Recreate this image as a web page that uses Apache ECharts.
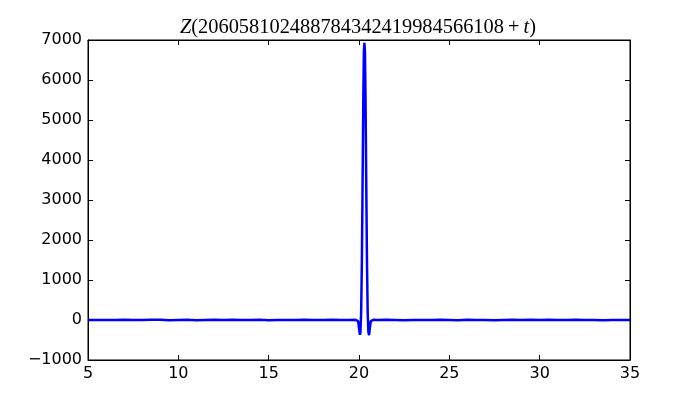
<!DOCTYPE html>
<html>
<head>
<meta charset="utf-8">
<script src="https://cdn.jsdelivr.net/npm/echarts@6/dist/echarts.min.js"></script>
<style>html,body{margin:0;padding:0;background:#fff}#c{width:700px;height:400px}</style>
</head>
<body>
<div id="c"></div>
<script>
const titleNumber = "206058102488784342419984566108";
const xTicks = [5, 10, 15, 20, 25, 30, 35];
const yTicks = [-1000, 0, 1000, 2000, 3000, 4000, 5000, 6000, 7000];
const tValues = [5, 5.5, 6, 6.5, 7, 7.5, 8, 8.5, 9, 9.5, 10, 10.5, 11, 11.5, 12, 12.5, 13, 13.5, 14, 14.5, 15, 15.5, 16, 16.5, 17, 17.5, 18, 18.5, 19, 19.5, 19.8, 19.9, 19.95, 20.0, 20.05, 20.08, 20.12, 20.16, 20.2, 20.24, 20.27, 20.3, 20.33, 20.36, 20.4, 20.44, 20.48, 20.52, 20.56, 20.6, 20.65, 20.7, 20.8, 21, 21.5, 22, 22.5, 23, 23.5, 24, 24.5, 25, 25.5, 26, 26.5, 27, 27.5, 28, 28.5, 29, 29.5, 30, 30.5, 31, 31.5, 32, 32.5, 33, 33.5, 34, 34.5, 35];
const zValues = [1, -3, 2, -2, 4, 1, -3, 5, 8, -6, 3, 7, -5, 2, 4, -2, 6, -1, 3, 5, -4, 2, 1, -3, 4, 1, -2, 4, 2, -1, 5, 5, -30, -200, -370, -300, 200, 1500, 3500, 5600, 6700, 6930, 6700, 5600, 3500, 1500, 200, -300, -380, -200, -30, 5, 5, -3, 4, 2, -5, 3, 1, -2, 4, 1, -4, 6, -2, 3, -4, 2, 5, -3, 7, -1, 4, -3, 2, 5, -2, 3, -4, 1, 2, 1];

const seriesData = tValues.map((t, i) => [t, zValues[i]]);
const fmtMinus = v => String(v).replace('-', '\u2212');

const chart = echarts.init(document.getElementById('c'), null, {renderer: 'canvas'});
const font = 'DejaVu Sans';
const gridBox = {left: 88, right: 70, top: 40, bottom: 40};
const tickStyle = {show: true, inside: true, length: 5, lineStyle: {color: '#000', width: 1}};
const lineStyle = {show: true, onZero: false, lineStyle: {color: '#000', width: 1}};
chart.setOption({
  animation: false,
  backgroundColor: '#fff',
  title: {
    text: '{i|Z}{r|(' + titleNumber + '\u2009+\u2009}{i|t}{r|)}',
    left: 353, top: 13, textAlign: 'center',
    textStyle: {
      fontWeight: 'normal',
      rich: {
        i: {fontFamily: 'Liberation Serif', fontStyle: 'italic', fontWeight: 'normal', fontSize: 20.4, color: '#000'},
        r: {fontFamily: 'Liberation Serif', fontWeight: 'normal', fontSize: 20.4, color: '#000'}
      }
    }
  },
  grid: Object.assign({show: true, borderColor: '#000', borderWidth: 1, backgroundColor: '#fff'}, gridBox),
  xAxis: [{
    type: 'value', min: xTicks[0], max: xTicks[xTicks.length - 1], interval: 5,
    position: 'bottom',
    axisLine: lineStyle,
    axisTick: tickStyle,
    splitLine: {show: false},
    axisLabel: {color: '#000', fontFamily: font, fontSize: 16, margin: 6, formatter: fmtMinus}
  }, {
    type: 'value', min: xTicks[0], max: xTicks[xTicks.length - 1], interval: 5,
    position: 'top',
    axisLine: lineStyle,
    axisTick: tickStyle,
    splitLine: {show: false},
    axisLabel: {show: false}
  }],
  yAxis: [{
    type: 'value', min: yTicks[0], max: yTicks[yTicks.length - 1], interval: 1000,
    position: 'left',
    axisLine: lineStyle,
    axisTick: tickStyle,
    splitLine: {show: false},
    axisLabel: {color: '#000', fontFamily: font, fontSize: 16, margin: 6, formatter: fmtMinus}
  }, {
    type: 'value', min: yTicks[0], max: yTicks[yTicks.length - 1], interval: 1000,
    position: 'right',
    axisLine: lineStyle,
    axisTick: tickStyle,
    splitLine: {show: false},
    axisLabel: {show: false}
  }],
  series: [{
    type: 'line',
    data: seriesData,
    xAxisIndex: 0, yAxisIndex: 0,
    showSymbol: false,
    smooth: false,
    lineStyle: {color: '#0000ff', width: 2.5},
    clip: true
  }]
});
</script>
</body>
</html>
